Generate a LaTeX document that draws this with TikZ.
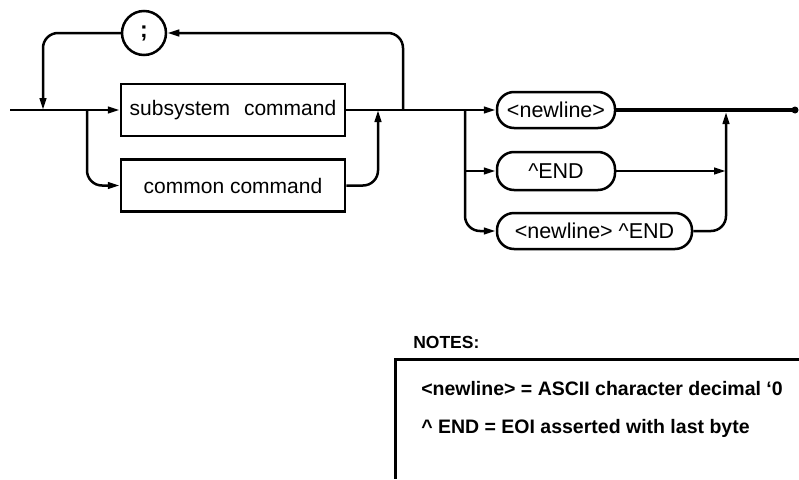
\documentclass[tikz,border=0pt]{standalone}
\usepackage{fontspec}
\setmainfont{Liberation Sans}
\usetikzlibrary{arrows.meta}

\begin{document}
\begin{tikzpicture}[x=1pt,y=-1pt,line width=2.5pt,
    arr/.style={-{Triangle[length=12pt,width=6.5pt]}},
    cmdbox/.style={draw,minimum width=224pt,minimum height=52pt,inner sep=0pt,font=\fontsize{21}{24}\selectfont},
    termbox/.style={draw,rounded corners=17pt,minimum height=36pt,inner sep=0pt,font=\fontsize{21.5}{24}\selectfont},
    notetext/.style={anchor=west,inner sep=0pt,font=\bfseries\fontsize{19.5}{22}\selectfont}]
      \useasboundingbox (0,0) rectangle (799,479);
      \node[cmdbox] (subsys) at (233,110) {subsystem\hspace{14pt}command};
      \node[cmdbox] (common) at (233,185.5) {common command};
      \node[draw,circle,minimum size=44pt,inner sep=0pt,font=\bfseries\fontsize{23}{24}\selectfont] (semi) at (144,33) {;};
      \node[termbox,minimum width=118pt] (nl) at (556,110) {<newline>};
      \node[termbox,minimum width=118pt,minimum height=38pt] (endd) at (556,171) {\textasciicircum END};
      \node[termbox,minimum width=195pt] (nlend) at (594.5,231) {<newline> \textasciicircum END};
      \coordinate (start) at (10,110);
      \coordinate (lj) at (43,110);
      \coordinate (bj) at (87,110);
      \coordinate (cj) at (378,110);
      \coordinate (rj) at (403,110);
      \coordinate (bj2) at (465,110);
      \coordinate (cj2) at (726,110);
      \coordinate (stop) at (795,110);
      \draw[arr] (start) -- (subsys.west);
      \draw[arr] (subsys.east) -- (nl.west);
      \draw[arr,rounded corners=15pt] (rj) |- (semi.east);
      \draw[arr,rounded corners=15pt] (semi.west) -| (lj);
      \draw[arr,rounded corners=15pt] (bj) |- (common.west);
      \draw[arr,rounded corners=15pt] (common.east) -| (cj);
      \draw[arr,rounded corners=15pt] (bj2) |- (nlend.west);
      \draw[arr] (bj2 |- endd.west) -- (endd.west);
      \draw[arr] (endd.east) -- (endd.east -| cj2);
      \draw[arr,rounded corners=15pt,shorten >=2pt] (nlend.east) -| (cj2);
      \draw[line width=4.5pt] (nl.east) -- (stop);
      \fill (stop) circle (3.5pt);
      \node[notetext,font=\bfseries\fontsize{17.5}{20}\selectfont] (notes) at (412,342) {NOTES:};
      \draw[line width=3pt] (799,359) -- (395,359) -- (395,479);
      \node[notetext] (note1) at (420,389) {<newline> = ASCII character decimal `0};
      \node[notetext] (note2) at (420,428) {\textasciicircum{} END = EOI asserted with last byte};
    \end{tikzpicture}
\end{document}
